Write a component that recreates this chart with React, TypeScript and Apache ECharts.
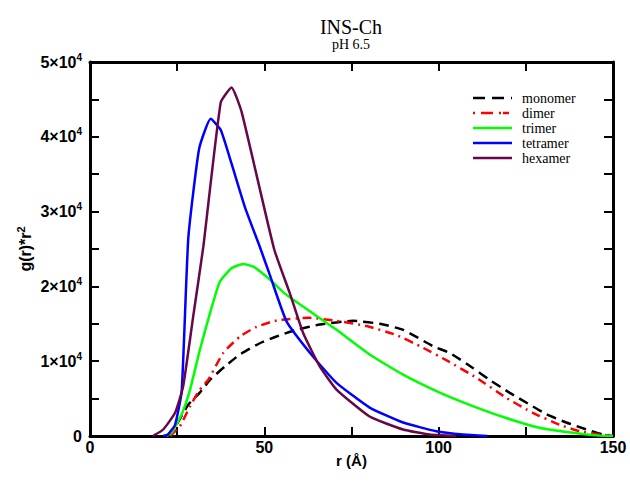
import React, { useEffect, useRef } from "react";
import * as echarts from "echarts";

const seriesNames = ["monomer", "dimer", "trimer", "tetramer", "hexamer"];

const monomer: [number, number][] = [
  [22, 0], [24.8, 1500], [28.2, 4200], [31.5, 5800], [34.4, 7500], [38.7, 9300],
  [43, 10900], [48.7, 12400], [53.5, 13300], [59.2, 14200], [65.9, 14900],
  [75.4, 15400], [83.1, 15000], [89.8, 14200], [98.4, 12000], [103.2, 11100],
  [109.8, 9100], [114.6, 7500], [120.3, 5800], [126.1, 4200], [130.9, 2900],
  [136.6, 1800], [142.2, 900], [147, 200], [150, 0],
];

const dimer: [number, number][] = [
  [23, 0], [25.8, 1300], [28.7, 4000], [31.5, 6200], [33.9, 7500], [38.2, 11100],
  [43, 13300], [47.8, 14600], [54, 15500], [63, 15800], [70.7, 15400],
  [79.3, 14700], [87.9, 13500], [95.5, 11800], [102.7, 10000], [110.8, 7800],
  [119.4, 5100], [127, 3100], [134.7, 1500], [140.4, 640], [146.1, 200], [150, 0],
];

const trimer: [number, number][] = [
  [22, 0], [23.4, 430], [26.3, 2900], [28.7, 6200], [31.5, 11500], [34.4, 16400],
  [37.2, 20600], [40.5, 22400], [43.9, 23000], [47, 22600], [51.6, 20900],
  [56, 19000], [61.1, 17300], [70.7, 14200], [80.2, 10900], [89.8, 8200],
  [100.3, 5800], [109.8, 4000], [119.4, 2400], [128.9, 1100], [138.5, 430],
  [146, 50], [150, 0],
];

const tetramer: [number, number][] = [
  [21, 0], [22.4, 200], [24.4, 1500], [26.3, 6000], [28.2, 26500], [31.3, 38400],
  [34.6, 42400], [37.5, 40900], [40.6, 36400], [44.5, 30500], [48.7, 25300],
  [51.6, 21500], [56.4, 15300], [64, 10600], [70.7, 7100], [80.2, 3800],
  [89.8, 1800], [99.3, 640], [107, 200], [114, 0],
];

const hexamer: [number, number][] = [
  [18, 0], [21, 870], [24.4, 3100], [26.7, 6600], [29.6, 16000], [32.5, 25300],
  [37.5, 44600], [40.6, 46600], [43.5, 43300], [52.8, 25000], [57.3, 19100],
  [61.1, 13800], [65.9, 9300], [70.7, 6200], [80.2, 2600], [89.8, 870],
  [97.4, 200], [105, 0],
];

const seriesData = [monomer, dimer, trimer, tetramer, hexamer];
const colors = ["#000000", "#ff0000", "#00ff00", "#0000ff", "#670748"];
const dashes: any[] = [[10, 6], [9, 5, 2, 5], "solid", "solid", "solid"];
const legendDashes: any[] = [[12, 7], [2, 6, 12, 6, 2], null, null, null];

const xTickLabels = ["0", "50", "100", "150"];

export default function App() {
  const ref = useRef<HTMLDivElement>(null);
  useEffect(() => {
    if (!ref.current) return;
    const chart = echarts.init(ref.current, null, { renderer: "svg" });
    const sans = '"Liberation Sans", Arial, sans-serif';
    const serif = '"Liberation Serif", "Times New Roman", serif';
    const yFormatter = (v: number) => {
      if (v === 0) return "{n|0}";
      if (v % 10000 === 0) return `{n|${v / 10000}×10}{s|4}`;
      return "";
    };
    const rich = {
      n: { fontFamily: sans, fontWeight: "bold", fontSize: 16, color: "#000" },
      s: { fontFamily: sans, fontWeight: "bold", fontSize: 10, color: "#000", padding: [0, 0, 10, 0] },
    };
    const axisCommon = {
      axisLine: { show: true, onZero: false, lineStyle: { color: "#000", width: 3 } },
      axisTick: { show: true, inside: true, length: 9, lineStyle: { color: "#000", width: 2 } },
      splitLine: { show: false },
    };
    const legendGraphics: any[] = [];
    seriesNames.forEach((n, i) => {
      const y = 98 + i * 15;
      legendGraphics.push({
        type: "line",
        shape: { x1: 473, y1: y, x2: 512, y2: y },
        style: { stroke: colors[i], lineWidth: 2.5, lineDash: legendDashes[i] || undefined },
      });
      legendGraphics.push({
        type: "text", x: 522, y,
        style: { text: n, font: `14px ${serif}`, fill: "#000", textVerticalAlign: "middle" },
      });
    });
    chart.setOption({
      animation: false,
      backgroundColor: "#fff",
      graphic: [
        { type: "text", x: 351, y: 27, style: { text: "INS-Ch", font: `20px ${serif}`, fill: "#000", textAlign: "center", textVerticalAlign: "middle" } },
        { type: "text", x: 351, y: 44, style: { text: "pH 6.5", font: `14px ${serif}`, fill: "#000", textAlign: "center", textVerticalAlign: "middle" } },
        ...legendGraphics,
      ],
      grid: { left: 90, right: 17, top: 62, bottom: 47, containLabel: false },
      xAxis: [
        {
          type: "value", min: 0, max: 150, interval: 25, position: "bottom",
          ...axisCommon,
          name: "r (Å)", nameLocation: "middle", nameGap: 17, nameMoveOverlap: false,
          nameTextStyle: { fontFamily: sans, fontWeight: "bold", fontSize: 15, color: "#000" },
          axisLabel: {
            margin: 3,
            fontFamily: sans, fontWeight: "bold", fontSize: 16, color: "#000",
            formatter: (v: number) => (v % 50 === 0 ? xTickLabels[v / 50] : ""),
          },
        },
        {
          type: "value", min: 0, max: 150, interval: 25, position: "top",
          ...axisCommon,
          axisLabel: { show: false },
        },
      ],
      yAxis: [
        {
          type: "value", min: 0, max: 50000, interval: 5000, position: "left",
          ...axisCommon,
          name: "{g|g(r)*r}{s|2}", nameLocation: "middle", nameGap: 54, nameRotate: 90,
          nameMoveOverlap: false,
          nameTextStyle: {
            rich: {
              g: { fontFamily: sans, fontWeight: "bold", fontSize: 16, color: "#000" },
              s: { fontFamily: sans, fontWeight: "bold", fontSize: 11, color: "#000", padding: [0, 0, 10, 0] },
            },
          },
          axisLabel: { margin: 8, formatter: yFormatter, rich },
        },
        {
          type: "value", min: 0, max: 50000, interval: 5000, position: "right",
          ...axisCommon,
          axisLabel: { show: false },
        },
      ],
      series: seriesNames.map((name, i) => ({
        name,
        type: "line",
        data: seriesData[i],
        symbol: "none",
        smooth: 0.15,
        color: colors[i],
        lineStyle: { color: colors[i], width: 2.5, type: dashes[i] },
        xAxisIndex: 0,
        yAxisIndex: 0,
      })),
    });
    return () => chart.dispose();
  }, []);
  return <div ref={ref} style={{ width: 630, height: 483, position: "absolute", left: 0, top: 0 }} />;
}
